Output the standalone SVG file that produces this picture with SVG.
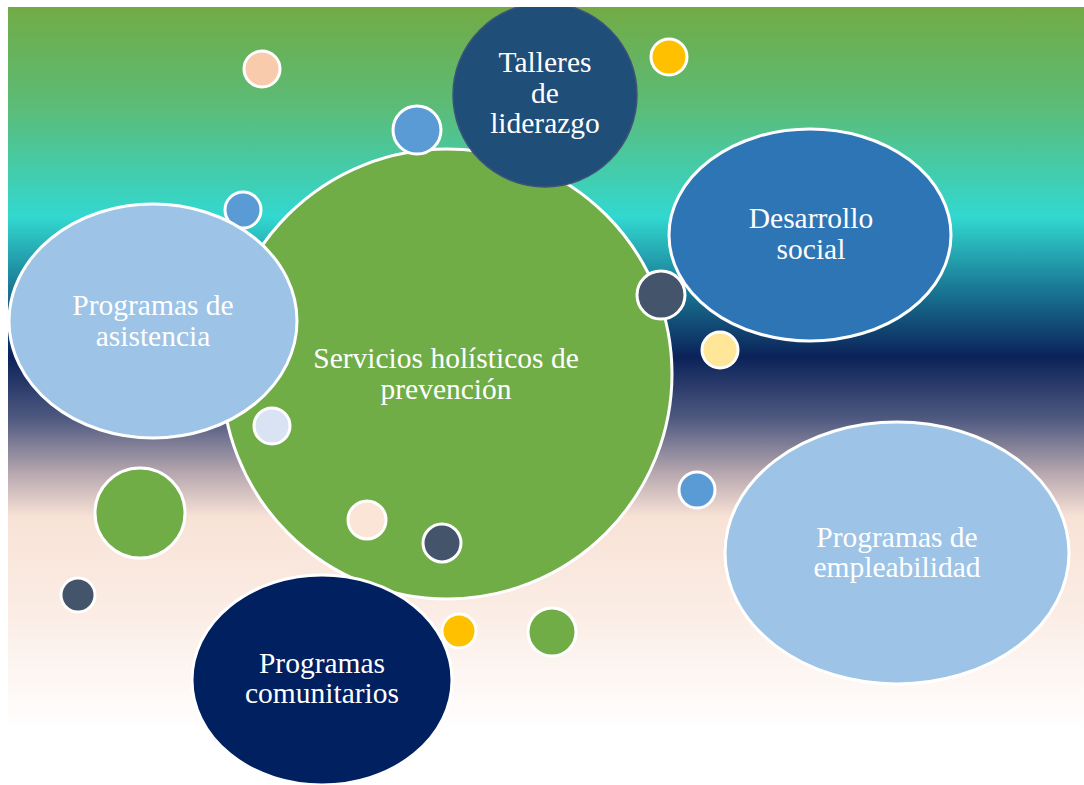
<svg xmlns="http://www.w3.org/2000/svg" width="1084" height="785" viewBox="0 0 1084 785">
<defs>
<linearGradient id="bg" x1="0" y1="7" x2="0" y2="785" gradientUnits="userSpaceOnUse">
<stop offset="0" stop-color="#72ab45"/>
<stop offset="0.13" stop-color="#5bbc78"/>
<stop offset="0.27" stop-color="#32d8d0"/>
<stop offset="0.36" stop-color="#1a7a96"/>
<stop offset="0.45" stop-color="#0b2259"/>
<stop offset="0.53" stop-color="#505a80"/>
<stop offset="0.6" stop-color="#b8a8b0"/>
<stop offset="0.655" stop-color="#f8e2d6"/>
<stop offset="0.78" stop-color="#fbede5"/>
<stop offset="0.93" stop-color="#ffffff"/>
<stop offset="1" stop-color="#ffffff"/>
</linearGradient>
<clipPath id="clip"><rect x="8" y="7" width="1076" height="778"/></clipPath>
<style>
.w{stroke:#ffffff;stroke-width:3}
.t{font-family:"Liberation Serif","Times New Roman",serif;font-size:29.5px;fill:#ffffff;text-anchor:middle}
</style>
</defs>
<rect width="1084" height="785" fill="#ffffff"/>
<g clip-path="url(#clip)">
<rect x="8" y="7" width="1076" height="778" fill="url(#bg)"/>
<g id="dots-back">
<circle cx="262" cy="69" r="18" fill="#f8cbad" class="w"/>
<circle cx="669" cy="57" r="18" fill="#ffc000" class="w"/>
<circle cx="243" cy="210" r="18" fill="#5b9bd5" class="w"/>
<circle cx="720" cy="350" r="18" fill="#ffe699" class="w"/>
<circle cx="140" cy="513" r="45" fill="#70ad47" class="w"/>
<circle cx="78" cy="595" r="17" fill="#44546a" class="w"/>
<circle cx="697" cy="490" r="18" fill="#5b9bd5" class="w"/>
<circle cx="552" cy="632" r="24" fill="#70ad47" class="w"/>
</g>
<g id="node-servicios">
<circle cx="447" cy="374" r="225" fill="#70ad47" class="w"/>
<text class="t" x="446" y="368">Servicios holísticos de</text>
<text class="t" x="446" y="399">prevención</text>
</g>
<g id="node-asistencia">
<ellipse cx="153" cy="321" rx="144" ry="117" fill="#9dc3e6" class="w"/>
<text class="t" x="153" y="315">Programas de</text>
<text class="t" x="153" y="346">asistencia</text>
</g>
<g id="node-talleres">
<circle cx="417" cy="130" r="24" fill="#5b9bd5" class="w"/>
<circle cx="545" cy="95" r="92" fill="#1f4e79" stroke="#3d5478" stroke-width="1.5"/>
<text class="t" x="545" y="72">Talleres</text>
<text class="t" x="545" y="103">de</text>
<text class="t" x="545" y="133">liderazgo</text>
</g>
<g id="node-desarrollo">
<ellipse cx="810" cy="235" rx="141" ry="106" fill="#2e75b6" class="w"/>
<text class="t" x="811" y="228">Desarrollo</text>
<text class="t" x="811" y="259">social</text>
</g>
<g id="node-empleabilidad">
<ellipse cx="897" cy="553" rx="172" ry="131" fill="#9dc3e6" class="w"/>
<text class="t" x="897" y="547">Programas de</text>
<text class="t" x="897" y="577">empleabilidad</text>
</g>
<g id="node-comunitarios">
<ellipse cx="322" cy="680" rx="130" ry="105" fill="#002060" class="w"/>
<text class="t" x="322" y="673">Programas</text>
<text class="t" x="322" y="703">comunitarios</text>
</g>
<g id="dots-front">
<circle cx="661" cy="295" r="24" fill="#44546a" class="w"/>
<circle cx="272" cy="426" r="18" fill="#dae3f3" class="w"/>
<circle cx="367" cy="520" r="19" fill="#fbe5d6" class="w"/>
<circle cx="442" cy="543" r="19" fill="#44546a" class="w"/>
<circle cx="459" cy="631" r="17" fill="#ffc000" class="w"/>
</g>
</g>
</svg>
